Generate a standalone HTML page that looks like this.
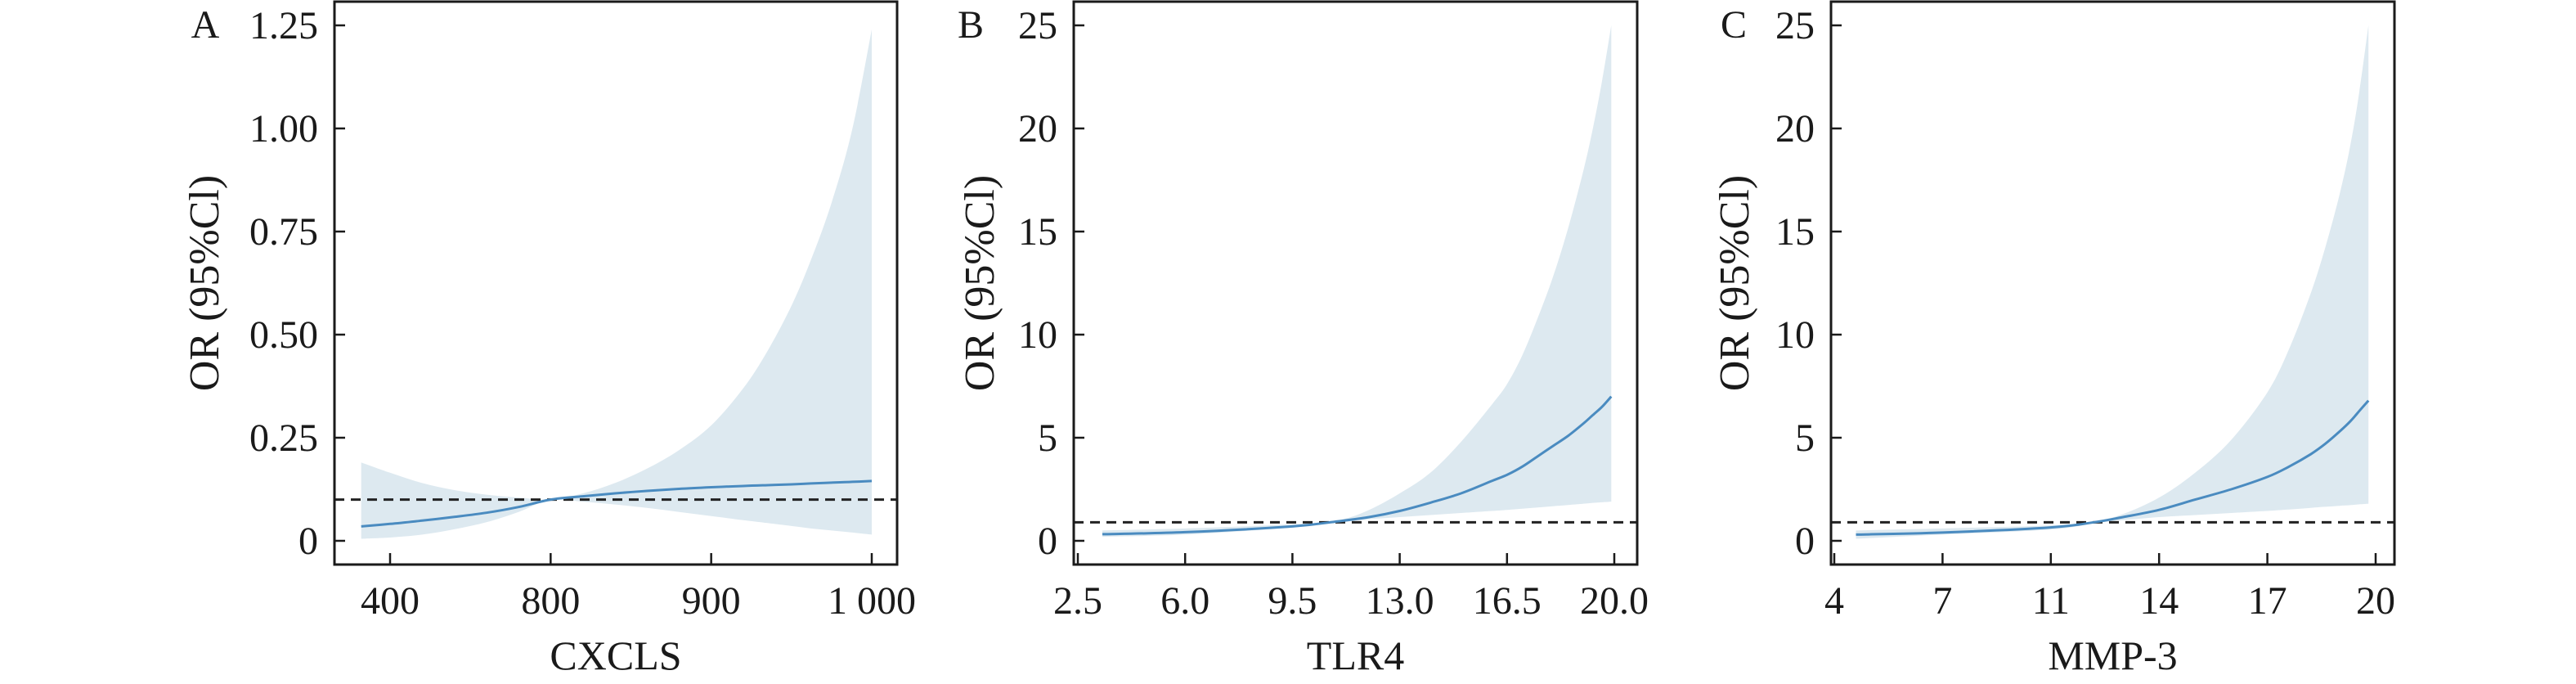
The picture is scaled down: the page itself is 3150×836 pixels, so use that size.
<!DOCTYPE html>
<html><head><meta charset="utf-8">
<style>html,body{margin:0;padding:0;background:#fff}svg{display:block}text{font-family:"Liberation Serif",serif;fill:#1a1a1a}</style>
</head><body>
<svg id="chart" width="3150" height="836" viewBox="0 0 3150 836" xmlns="http://www.w3.org/2000/svg"></svg>
<script>
// Panel A (CXCLS)
const aTickVals = [700, 800, 900, 1000];
const aTickLabels = ["400", "800", "900", "1 000"];
const aYTicks = [0, 0.25, 0.5, 0.75, 1.0, 1.25];
const aYLabels = ["0", "0.25", "0.50", "0.75", "1.00", "1.25"];
const aX =     [682, 700, 720, 740, 760, 780, 800, 820, 840, 860, 880, 900, 920, 935, 950, 962, 975, 988, 1000];
const aLine =  [0.035, 0.041, 0.049, 0.058, 0.068, 0.082, 0.10, 0.108, 0.115, 0.121, 0.126, 0.13, 0.133, 0.135, 0.137, 0.139, 0.141, 0.143, 0.145];
const aUpper = [0.19, 0.165, 0.14, 0.123, 0.112, 0.105, 0.10, 0.115, 0.14, 0.175, 0.22, 0.28, 0.37, 0.46, 0.57, 0.68, 0.82, 1.0, 1.24];
const aLower = [0.005, 0.008, 0.015, 0.028, 0.045, 0.07, 0.10, 0.095, 0.088, 0.08, 0.07, 0.06, 0.05, 0.043, 0.036, 0.03, 0.025, 0.02, 0.015];
const aRef = 0.1;
// Panel B (TLR4)
const bTickVals = [2.5, 6.0, 9.5, 13.0, 16.5, 20.0];
const bTickLabels = ["2.5", "6.0", "9.5", "13.0", "16.5", "20.0"];
const bYTicks = [0, 5, 10, 15, 20, 25];
const bYLabels = ["0", "5", "10", "15", "20", "25"];
const bX =     [3.3, 6, 9.5, 11, 12, 13, 14, 15, 16, 16.5, 17, 17.5, 18, 18.5, 19, 19.3, 19.6, 19.9];
const bLine =  [0.32, 0.42, 0.7, 0.95, 1.15, 1.45, 1.85, 2.3, 2.9, 3.2, 3.6, 4.1, 4.6, 5.1, 5.7, 6.1, 6.5, 7.0];
const bUpper = [0.5, 0.6, 0.8, 1.0, 1.5, 2.3, 3.3, 4.8, 6.6, 7.6, 9.0, 10.8, 12.8, 15.2, 18.0, 20.0, 22.3, 25.0];
const bLower = [0.2, 0.3, 0.65, 0.9, 1.05, 1.15, 1.25, 1.35, 1.45, 1.5, 1.56, 1.62, 1.68, 1.74, 1.8, 1.84, 1.87, 1.9];
const bRef = 0.9;
// Panel C (MMP-3)
const cTickVals = [5, 8, 11, 14, 17, 20];
const cTickLabels = ["4", "7", "11", "14", "17", "20"];
const cYTicks = [0, 5, 10, 15, 20, 25];
const cYLabels = ["0", "5", "10", "15", "20", "25"];
const cX =     [5.6, 8, 11, 12.2, 13, 14, 15, 16, 17, 17.6, 18.2, 18.6, 19, 19.3, 19.55, 19.8];
const cLine =  [0.3, 0.4, 0.65, 0.9, 1.15, 1.5, 2.0, 2.5, 3.1, 3.6, 4.2, 4.7, 5.3, 5.8, 6.3, 6.8];
const cUpper = [0.5, 0.6, 0.75, 0.95, 1.3, 2.1, 3.3, 4.9, 7.2, 9.3, 12.0, 14.2, 16.8, 19.2, 21.8, 25.0];
const cLower = [0.1, 0.3, 0.55, 0.85, 1.0, 1.15, 1.25, 1.35, 1.45, 1.52, 1.6, 1.65, 1.7, 1.73, 1.77, 1.8];
const cRef = 0.9;

const NS = "http://www.w3.org/2000/svg";
const svg = document.getElementById("chart");
function mk(tag, attrs, parent) {
  const e = document.createElementNS(NS, tag);
  for (const k in attrs) e.setAttribute(k, attrs[k]);
  (parent || svg).appendChild(e);
  return e;
}
function smooth(pts) {
  let d = "M" + pts[0][0].toFixed(1) + "," + pts[0][1].toFixed(1);
  for (let i = 0; i < pts.length - 1; i++) {
    const p0 = pts[Math.max(0, i - 1)], p1 = pts[i], p2 = pts[i + 1], p3 = pts[Math.min(pts.length - 1, i + 2)];
    const c1x = p1[0] + (p2[0] - p0[0]) / 6, c1y = p1[1] + (p2[1] - p0[1]) / 6;
    const c2x = p2[0] - (p3[0] - p1[0]) / 6, c2y = p2[1] - (p3[1] - p1[1]) / 6;
    d += "C" + c1x.toFixed(1) + "," + c1y.toFixed(1) + " " + c2x.toFixed(1) + "," + c2y.toFixed(1) + " " + p2[0].toFixed(1) + "," + p2[1].toFixed(1);
  }
  return d;
}
function panel(o) {
  const g = mk("g", {});
  
  
  const xs = v => o.px0 + (v - o.x0) / (o.x1 - o.x0) * (o.px1 - o.px0);
  const ys = v => o.py0 - (v - o.yMin) / (o.yMax - o.yMin) * (o.py0 - o.py1);
  const up = o.X.map((x, i) => [xs(x), ys(o.U[i])]);
  const lo = o.X.map((x, i) => [xs(x), ys(o.L[i])]).reverse();
  const dl = smooth(lo).replace(/^M/, "L");
  const band = mk("path", { d: smooth(up) + dl + "Z", fill: "#dde9f0" }, g);
  
  
  const ref = mk("line", { x1: o.bx0, x2: o.bx1, y1: ys(o.ref), y2: ys(o.ref), stroke: "#222", "stroke-width": 3, "stroke-dasharray": "12,8" }, g);
  
  
  const line = mk("path", { d: smooth(o.X.map((x, i) => [xs(x), ys(o.M[i])])), fill: "none", stroke: "#4a8bc0", "stroke-width": 3 }, g);
  
  
  const box = mk("rect", { x: o.bx0, y: 2, width: o.bx1 - o.bx0, height: 688, fill: "none", stroke: "#1a1a1a", "stroke-width": 3 }, g);
  
  
  o.yt.forEach((v, i) => {
    const y = ys(v);
    const t = mk("line", { x1: o.bx0, x2: o.bx0 + 13, y1: y, y2: y, stroke: "#1a1a1a", "stroke-width": 2.5 }, g);
    
    
    const tx = mk("text", { x: o.bx0 - 20, y: y + 16, "text-anchor": "end", "font-size": 48 }, g);
    
    
    tx.textContent = o.yl[i];
  });
  o.xt.forEach((v, i) => {
    const x = xs(v);
    const t = mk("line", { x1: x, x2: x, y1: 690, y2: 676, stroke: "#1a1a1a", "stroke-width": 2.5 }, g);
    
    
    const tx = mk("text", { x: x, y: 750, "text-anchor": "middle", "font-size": 48 }, g);
    
    
    tx.textContent = o.xl[i];
  });
  const xt = mk("text", { x: (o.bx0 + o.bx1) / 2, y: 818, "text-anchor": "middle", "font-size": 50 }, g);
  
  
  xt.textContent = o.xtitle;
  const yt = mk("text", { x: 0, y: 0, "text-anchor": "middle", "font-size": 52, transform: "translate(" + (o.ylx) + ",346) rotate(-90)" }, g);
  
  
  yt.textContent = "OR (95%Cl)";
  const lt = mk("text", { x: o.lx, y: 46, "text-anchor": "middle", "font-size": 48 }, g);
  
  
  lt.textContent = o.id;
}
panel({ id: "A", bx0: 409, bx1: 1097, px0: 477, px1: 1066, x0: 700, x1: 1000, py0: 661, py1: 31, yMin: 0, yMax: 1.25,
  X: aX, M: aLine, U: aUpper, L: aLower, ref: aRef, xt: aTickVals, xl: aTickLabels, yt: aYTicks, yl: aYLabels,
  xtitle: "CXCLS", ylx: 267, lx: 251 });
panel({ id: "B", bx0: 1313, bx1: 2002, px0: 1318, px1: 1974, x0: 2.5, x1: 20, py0: 661, py1: 31, yMin: 0, yMax: 25,
  X: bX, M: bLine, U: bUpper, L: bLower, ref: bRef, xt: bTickVals, xl: bTickLabels, yt: bYTicks, yl: bYLabels,
  xtitle: "TLR4", ylx: 1215, lx: 1187 });
panel({ id: "C", bx0: 2239, bx1: 2928, px0: 2243, px1: 2905, x0: 5, x1: 20, py0: 661, py1: 31, yMin: 0, yMax: 25,
  X: cX, M: cLine, U: cUpper, L: cLower, ref: cRef, xt: cTickVals, xl: cTickLabels, yt: cYTicks, yl: cYLabels,
  xtitle: "MMP-3", ylx: 2138, lx: 2120 });
</script>
</body></html>
